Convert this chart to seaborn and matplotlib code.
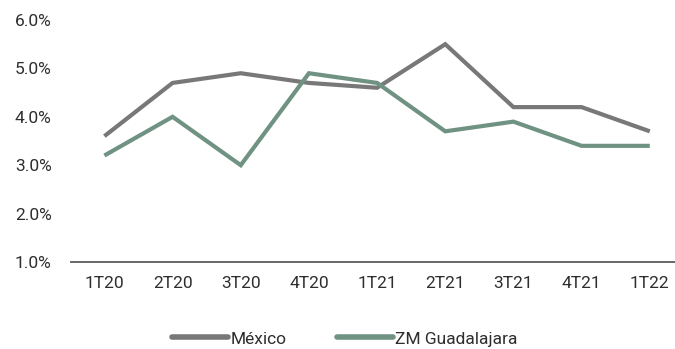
import matplotlib
matplotlib.use("Agg")
import matplotlib.pyplot as plt
import seaborn as sns
import pandas as pd
from matplotlib.ticker import FuncFormatter

quarters = ["1T20", "2T20", "3T20", "4T20", "1T21", "2T21", "3T21", "4T21", "1T22"]
mexico = [3.6, 4.7, 4.9, 4.7, 4.6, 5.5, 4.2, 4.2, 3.7]
guadalajara = [3.2, 4.0, 3.0, 4.9, 4.7, 3.7, 3.9, 3.4, 3.4]
series_names = ["México", "ZM Guadalajara"]
colors = ["#787878", "#6f9283"]

df = pd.DataFrame({
    "trimestre": quarters * 2,
    "tasa": mexico + guadalajara,
    "serie": [series_names[0]] * len(quarters) + [series_names[1]] * len(quarters),
})
df["pos"] = list(range(len(quarters))) * 2

sns.set_theme(style="white")
plt.rcParams["font.family"] = ["Roboto", "DejaVu Sans"]

fig = plt.figure(figsize=(6.75, 3.49), dpi=100)
ax = fig.add_axes([71 / 675, (349 - 262) / 349, (675 - 71) / 675, (262 - 20) / 349])

sns.lineplot(data=df, x="pos", y="tasa", hue="serie", palette=colors,
             linewidth=3.0, ax=ax, legend=False, sort=False)
for line in ax.lines:
    line.set_solid_capstyle("butt")
    line.set_solid_joinstyle("miter")

ax.set_xlim(-0.49, 8.37)
ax.set_ylim(1.0, 6.0)
ax.set_xticks(range(len(quarters)))
ax.set_xticklabels(quarters)
ax.set_yticks([1, 2, 3, 4, 5, 6])
ax.yaxis.set_major_formatter(FuncFormatter(lambda v, _: f"{v:.1f}%"))
ax.tick_params(axis="both", length=0, labelsize=12.5, colors="#2e2e2e")
ax.tick_params(axis="x", pad=10)
ax.tick_params(axis="y", pad=14)
ax.set_xlabel("")
ax.set_ylabel("")
for side in ["top", "right", "left"]:
    ax.spines[side].set_visible(False)
ax.spines["bottom"].set_color("#5a5a5a")
ax.spines["bottom"].set_linewidth(1.3)
ax.grid(False)

handles = [plt.Line2D([0], [0], color=c, lw=4.0, solid_capstyle="round") for c in colors]
fig.legend(handles, series_names, loc="center", bbox_to_anchor=(345 / 675, 1 - 339 / 349),
           ncol=2, frameon=False, handlelength=3.2, handletextpad=0.15,
           columnspacing=2.9, fontsize=12.5, labelcolor="#2e2e2e")

fig.savefig("out.png", dpi=100)
